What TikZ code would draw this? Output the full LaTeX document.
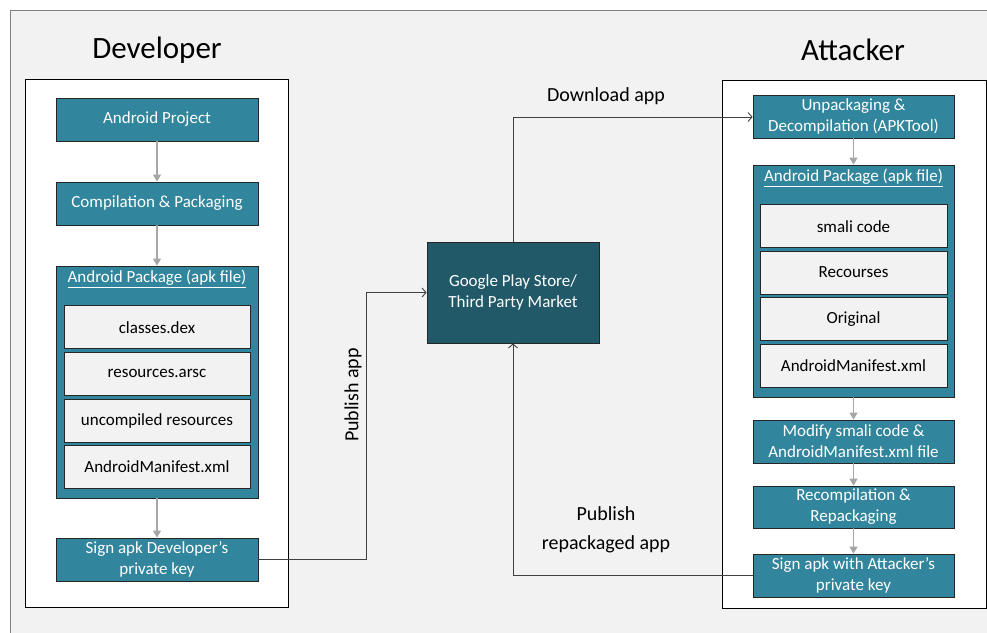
\documentclass[tikz,border=0pt]{standalone}
\usepackage{fontspec}
\setmainfont{Carlito}
\usetikzlibrary{arrows.meta}
\definecolor{teal1}{HTML}{31859C}
\definecolor{teal2}{HTML}{215968}
\definecolor{paper}{HTML}{F2F2F2}
\definecolor{edge}{HTML}{262626}
\definecolor{flowgray}{HTML}{A6A6A6}
\definecolor{linkgray}{HTML}{404040}
\begin{document}
\begin{tikzpicture}[x=1pt,y=-1pt,
  every node/.style={font=\fontsize{17}{21}\selectfont, inner sep=0pt},
  tbox/.style={draw=edge, line width=0.8pt, fill=teal1, text=white, align=center,
    minimum width=202pt, minimum height=43pt},
  ibox/.style={draw=edge, line width=0.8pt, fill=paper, text=black, align=center,
    minimum width=186pt, minimum height=43pt},
  holder/.style={draw=black, line width=0.8pt, fill=white},
  flow/.style={draw=flowgray, line width=1.3pt, -{Triangle[width=8pt,length=7pt]}},
  link/.style={draw=linkgray, line width=0.9pt, -{Straight Barb[length=4pt,width=9pt]}},
  title/.style={font=\fontsize{31}{36}\selectfont},
  tag/.style={font=\fontsize{20}{29}\selectfont, align=center}
]
\useasboundingbox (0,0) rectangle (987,632);
\fill[white] (0,0) rectangle (987,632);
\draw[fill=paper, draw=gray, line width=0.9pt] (10,10) rectangle (1000,645);

% Developer side
\node[title] (devt) at (157,50) {Developer};
\draw[holder] (25,79) rectangle (288,607);
\node[tbox] (ap) at (157,119.5) {Android Project};
\node[tbox] (cp) at (157,203.5) {Compilation \& Packaging};
\node[tbox, minimum height=232pt] (pkg) at (157,382) {};
\node[text=white] (pkgt) at (157,279) {\underline{Android Package (apk file)}};
\node[ibox] (cd) at (157,327.3) {classes.dex};
\node[ibox] (ra) at (157,373.5) {resources.arsc};
\node[ibox] (ur) at (157,420.5) {uncompiled resources};
\node[ibox] (am) at (157,466.5) {AndroidManifest.xml};
\node[tbox] (sd) at (157,559.5) {Sign apk Developer’s\\private key};
\draw[flow] (ap) -- (cp);
\draw[flow] (cp) -- (pkg);
\draw[flow] (pkg) -- (sd);

% Market
\node[draw=edge, line width=0.8pt, fill=teal2, text=white, align=center,
  minimum width=172pt, minimum height=101pt] (mk) at (513,292.5)
  {Google Play Store/\\Third Party Market};

% Attacker side
\node[title] (att) at (853,50) {Attacker};
\draw[holder] (722,80) rectangle (986,608);
\node[tbox, minimum width=201pt] (up) at (853.5,116.5) {Unpackaging \&\\Decompilation (APKTool)};
\node[tbox, minimum width=201pt, minimum height=232pt] (pkg2) at (853.5,281) {};
\node[text=white] (pkg2t) at (853.5,178) {\underline{Android Package (apk file)}};
\node[ibox, minimum width=187pt] (sm) at (853.5,226.2) {smali code};
\node[ibox, minimum width=187pt] (rc) at (853.5,272.5) {Recourses};
\node[ibox, minimum width=187pt] (og) at (853.5,319.2) {Original};
\node[ibox, minimum width=187pt] (am2) at (853.5,365.5) {AndroidManifest.xml};
\node[tbox, minimum width=201pt] (md) at (853.5,441.5) {Modify smali code \&\\AndroidManifest.xml file};
\node[tbox, minimum width=201pt, minimum height=42pt] (rp) at (853.5,507) {Recompilation \&\\Repackaging};
\node[tbox, minimum width=201pt] (sa) at (853.5,575.5) {Sign apk with Attacker’s\\private key};
\draw[flow] (up) -- (pkg2);
\draw[flow] (pkg2) -- (md);
\draw[flow] (md) -- (rp);
\draw[flow] (rp) -- (sa);

% Links through the market
\coordinate (p1) at (366,559.5);
\coordinate (p2) at (366,292.5);
\draw[link] (sd.east) -- (p1) -- (p2) -- (mk.west);
\coordinate (d1) at (513,117);
\draw[link] (mk.north) -- (d1) -- (up.west |- d1);
\coordinate (r1) at (513,575.5);
\draw[link] (sa.west) -- (r1) -- (mk.south);

\node[tag] (dl) at (606,96) {Download app};
\node[tag, rotate=90] (pb) at (353,395) {Publish app};
\node[tag] (pr) at (606,530) {Publish\\repackaged app};
\end{tikzpicture}
\end{document}
